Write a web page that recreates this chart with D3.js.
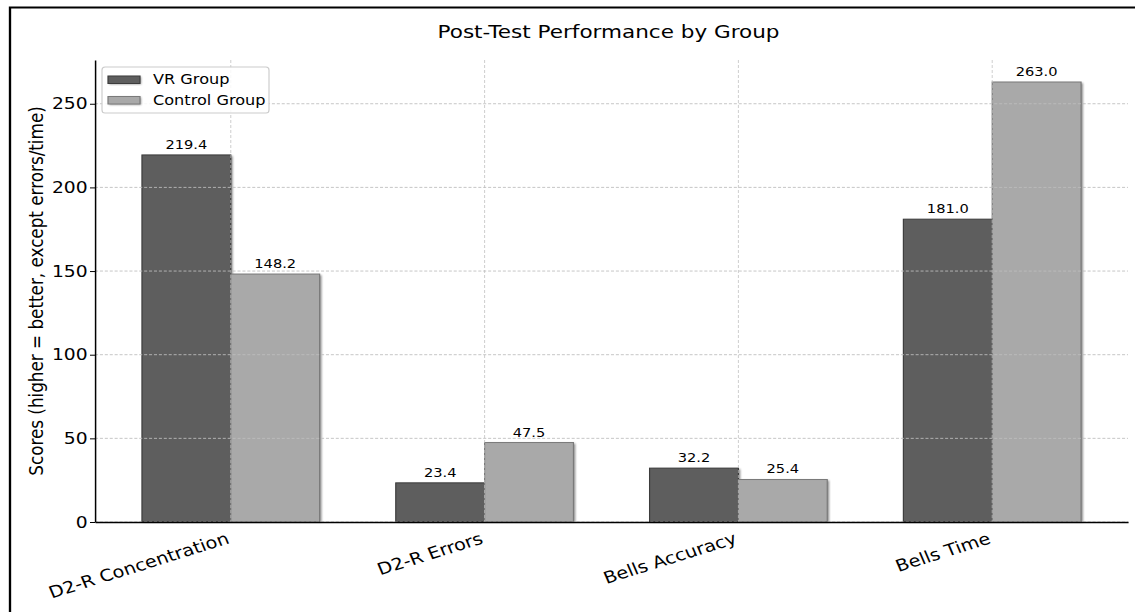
<!DOCTYPE html>
<html>
<head>
<meta charset="utf-8">
<script src="https://cdn.jsdelivr.net/npm/d3@7"></script>
<style>
  html, body { margin: 0; padding: 0; background: #fff; }
  svg { display: block; }
  text { font-family: "DejaVu Sans", sans-serif; fill: #000; }
</style>
</head>
<body>
<div id="chart"></div>
<script>
// ---- data ----
const categories = ["D2-R Concentration", "D2-R Errors", "Bells Accuracy", "Bells Time"];
const seriesNames = ["VR Group", "Control Group"];
const vrValues = [219.4, 23.4, 32.2, 181.0];
const controlValues = [148.2, 47.5, 25.4, 263.0];
const yTicks = [0, 50, 100, 150, 200, 250];
const titleText = "Post-Test Performance by Group";
const yLabelText = "Scores (higher = better, except errors/time)";

// ---- layout (design space is horizontally stretched to the window) ----
const W = 1135, H = 612, SX = 1.17;
const DW = W / SX;
const pLeft = 95 / SX, pRight = 1128 / SX, pTop = 60, pBottom = 522;
const barW = 0.35;
const colors = ["#5e5e5e", "#a9a9a9"];
const edges = ["#3c3c3c", "#7a7a7a"];

const svg = d3.select("#chart").append("svg")
  .attr("width", W).attr("height", H)
  .attr("viewBox", `0 0 ${DW} ${H}`)
  .attr("preserveAspectRatio", "none");

const defs = svg.append("defs");
const f = defs.append("filter").attr("id", "blur").attr("x", "-20%").attr("y", "-20%").attr("width", "140%").attr("height", "140%");
f.append("feGaussianBlur").attr("stdDeviation", "1.1");

// outer frame
svg.append("rect").attr("x", 10 / SX).attr("y", 7.5)
  .attr("width", DW + 20).attr("height", H + 20)
  .attr("fill", "none").attr("stroke", "#000").attr("stroke-width", 2);

const x = d3.scaleLinear().domain([-0.535, 3.535]).range([pLeft, pRight]);
const y = d3.scaleLinear().domain([0, 276.15]).range([pBottom, pTop]);

// bars
const series = [vrValues, controlValues];
const g = svg.append("g");
series.forEach((vals, s) => {
  const data = vals.map((v, i) => ({ v, i }));
  const x0 = d => x(d.i - barW + s * barW);
  // shadow
  g.selectAll(null).data(data).enter().append("rect")
    .attr("x", d => x0(d) + 1.6).attr("y", d => y(d.v) + 1)
    .attr("width", x(barW) - x(0)).attr("height", d => pBottom - y(d.v) - 1)
    .attr("fill", "#000").attr("opacity", 0.45).attr("filter", "url(#blur)");
  g.selectAll(null).data(data).enter().append("rect")
    .attr("x", x0).attr("y", d => y(d.v))
    .attr("width", x(barW) - x(0)).attr("height", d => pBottom - y(d.v))
    .attr("fill", colors[s]).attr("stroke", edges[s]).attr("stroke-width", 1);
  // value labels
  g.selectAll(null).data(data).enter().append("text")
    .attr("x", d => x0(d) + (x(barW) - x(0)) / 2)
    .attr("y", d => y(d.v) - 6)
    .attr("text-anchor", "middle")
    .style("font-size", "12.5px")
    .text(d => d.v.toFixed(1));
});

// grid (drawn above bars)
const grid = svg.append("g");
grid.selectAll(null).data(yTicks).enter().append("line")
  .attr("x1", pLeft).attr("x2", pRight)
  .attr("y1", d => y(d)).attr("y2", d => y(d))
  .attr("stroke", "#bdbdbd").attr("stroke-width", 0.8)
  .attr("stroke-dasharray", "2.6,1.6");
grid.selectAll(null).data(categories.map((c, i) => i)).enter().append("line")
  .attr("x1", d => x(d)).attr("x2", d => x(d))
  .attr("y1", pTop).attr("y2", pBottom)
  .attr("stroke", "#bdbdbd").attr("stroke-width", 0.8 / SX)
  .attr("stroke-dasharray", "3,2");

// y axis
const yAxis = svg.append("g").attr("transform", `translate(${pLeft},0)`)
  .call(d3.axisLeft(y).tickValues(yTicks).tickSize(5 / SX).tickSizeOuter(0).tickPadding(2).tickFormat(d3.format("d")));
yAxis.select(".domain").attr("stroke", "#000").attr("stroke-width", 1.5 / SX);
yAxis.selectAll(".tick line").attr("stroke", "#000").attr("stroke-width", 1);
yAxis.selectAll(".tick text").style("font-size", "16px").style("font-family", "DejaVu Sans, sans-serif").attr("fill", "#000");

// x axis
const xAxis = svg.append("g").attr("transform", `translate(0,${pBottom})`)
  .call(d3.axisBottom(x).tickValues(categories.map((c, i) => i)).tickSize(0).tickSizeOuter(0)
    .tickFormat(i => categories[i]));
xAxis.select(".domain").attr("stroke", "#000").attr("stroke-width", 1.5);
xAxis.selectAll(".tick text")
  .style("font-size", "16.5px").style("font-family", "DejaVu Sans, sans-serif").attr("fill", "#000")
  .attr("text-anchor", "end")
  .attr("x", -1 / SX).attr("y", 21).attr("dy", 0)
  .attr("transform", `rotate(-20, ${-1 / SX}, 21)`);

// y label
svg.append("text")
  .attr("transform", `translate(${36 / SX},${(pTop + pBottom) / 2}) rotate(-90)`)
  .attr("text-anchor", "middle").attr("dy", "0.35em")
  .style("font-size", "16.8px")
  .text(yLabelText);

// title
svg.append("text")
  .attr("x", (pLeft + pRight) / 2 - 3 / SX).attr("y", 38)
  .attr("text-anchor", "middle")
  .style("font-size", "18.4px")
  .text(titleText);

// legend
const lg = svg.append("g");
lg.append("rect")
  .attr("x", 102 / SX).attr("y", 67)
  .attr("width", (269 - 102) / SX).attr("height", 46)
  .attr("rx", 3 / SX).attr("ry", 3)
  .attr("fill", "#fff").attr("fill-opacity", 0.85)
  .attr("stroke", "#cccccc").attr("stroke-width", 1);
const legendRows = [84.5, 105];
seriesNames.forEach((name, s) => {
  const by = legendRows[s];
  lg.append("rect")
    .attr("x", 108 / SX + 1).attr("y", by - 8.5 + 0.8)
    .attr("width", 32 / SX).attr("height", 7.5)
    .attr("fill", "#000").attr("opacity", 0.4).attr("filter", "url(#blur)");
  lg.append("rect")
    .attr("x", 108 / SX).attr("y", by - 8.5)
    .attr("width", 32 / SX).attr("height", 7.5)
    .attr("fill", colors[s]).attr("stroke", edges[s]).attr("stroke-width", 1);
  lg.append("text")
    .attr("x", 153 / SX).attr("y", by)
    .style("font-size", "13.8px")
    .text(name);
});
</script>
</body>
</html>
